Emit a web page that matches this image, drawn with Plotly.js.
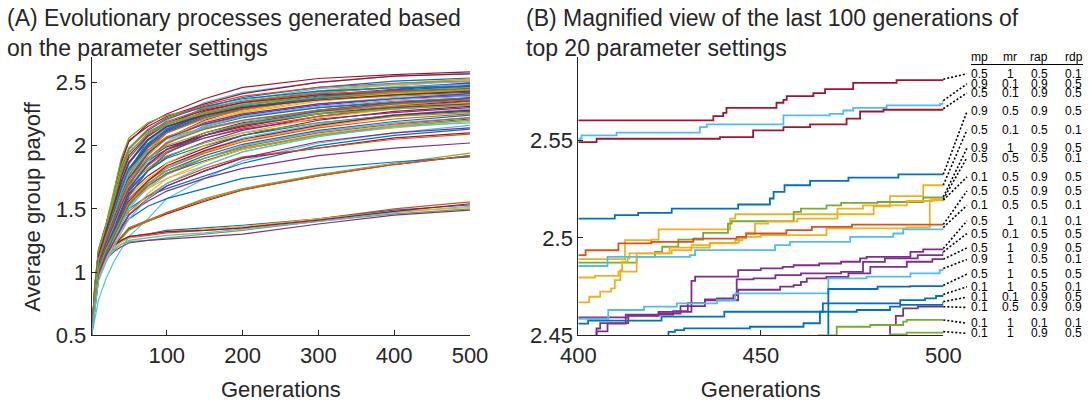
<!DOCTYPE html>
<html><head><meta charset="utf-8">
<script src="https://cdn.plot.ly/plotly-3.0.1.min.js"></script>
<style>html,body{margin:0;padding:0;background:#fff}#chart{width:1092px;height:406px}</style>
</head><body><div id="chart"></div>
<script>
// MATLAB default colour order
const palette = ['#0072BD','#D95319','#EDB120','#7E2F8E','#77AC30','#4DBEEE','#A2142F'];

// ---------- Panel A: all parameter settings ----------
const generations = [1,5,10,20,30,40,50,75,100,150,200,300,400,500];
const leftSeries = [
 [0.5,0.86,1.16,1.36,1.58,1.86,2.03,2.17,2.25,2.37,2.46,2.53,2.560,2.582],
 [0.5,0.82,1.12,1.32,1.50,1.68,1.85,2.08,2.20,2.34,2.42,2.50,2.551,2.571],
 [0.5,0.88,1.18,1.38,1.62,1.88,2.04,2.15,2.23,2.33,2.41,2.50,2.549,2.566],
 [0.5,0.80,1.10,1.30,1.46,1.64,1.80,2.04,2.16,2.30,2.38,2.46,2.510,2.533],
 [0.5,0.78,1.05,1.25,1.40,1.55,1.68,1.94,2.10,2.24,2.32,2.42,2.489,2.527],
 [0.5,0.90,1.18,1.38,1.64,1.90,2.06,2.18,2.24,2.30,2.35,2.43,2.487,2.521],
 [0.5,0.80,1.08,1.27,1.43,1.59,1.73,1.98,2.12,2.25,2.32,2.41,2.467,2.520],
 [0.5,0.82,1.10,1.29,1.45,1.62,1.78,2.01,2.15,2.27,2.33,2.43,2.480,2.519],
 [0.5,0.87,1.16,1.36,1.58,1.82,1.98,2.13,2.22,2.32,2.39,2.46,2.491,2.507],
 [0.5,0.80,1.09,1.28,1.45,1.63,1.79,2.02,2.16,2.29,2.36,2.45,2.486,2.505],
 [0.5,0.83,1.12,1.31,1.48,1.66,1.81,2.01,2.13,2.25,2.32,2.40,2.445,2.495],
 [0.5,0.82,1.10,1.29,1.45,1.62,1.77,2.00,2.14,2.27,2.34,2.42,2.459,2.493],
 [0.5,0.79,1.06,1.25,1.40,1.55,1.69,1.92,2.06,2.20,2.29,2.38,2.440,2.489],
 [0.5,0.80,1.08,1.27,1.44,1.61,1.77,2.00,2.14,2.26,2.33,2.42,2.461,2.484],
 [0.5,0.86,1.14,1.34,1.54,1.75,1.90,2.07,2.17,2.26,2.32,2.39,2.430,2.476],
 [0.5,0.82,1.10,1.30,1.47,1.64,1.79,2.00,2.13,2.24,2.30,2.38,2.435,2.471],
 [0.5,0.88,1.17,1.37,1.58,1.82,1.97,2.12,2.21,2.31,2.37,2.43,2.456,2.467],
 [0.5,0.83,1.12,1.31,1.48,1.65,1.80,1.99,2.11,2.22,2.29,2.37,2.420,2.465],
 [0.5,0.85,1.14,1.33,1.52,1.71,1.86,2.04,2.15,2.26,2.32,2.40,2.430,2.458],
 [0.5,0.79,1.07,1.26,1.42,1.58,1.74,1.96,2.10,2.21,2.28,2.37,2.425,2.452],
 [0.5,0.85,1.14,1.34,1.55,1.76,1.92,2.08,2.18,2.28,2.34,2.40,2.43,2.445],
 [0.5,0.82,1.10,1.29,1.44,1.60,1.76,1.98,2.10,2.22,2.29,2.37,2.41,2.44],
 [0.5,0.78,1.04,1.22,1.36,1.50,1.64,1.88,2.03,2.18,2.26,2.35,2.40,2.43],
 [0.5,0.84,1.12,1.31,1.50,1.70,1.86,2.04,2.15,2.25,2.31,2.37,2.40,2.42],
 [0.5,0.88,1.17,1.37,1.60,1.84,1.98,2.11,2.18,2.25,2.30,2.36,2.39,2.41],
 [0.5,0.76,1.02,1.20,1.34,1.48,1.62,1.86,2.01,2.16,2.24,2.33,2.38,2.40],
 [0.5,0.80,1.08,1.26,1.41,1.57,1.72,1.93,2.06,2.18,2.25,2.33,2.37,2.395],
 [0.5,0.78,1.05,1.22,1.37,1.52,1.66,1.85,1.97,2.10,2.18,2.28,2.34,2.38],
 [0.5,0.84,1.12,1.30,1.47,1.64,1.78,1.96,2.07,2.17,2.23,2.30,2.35,2.375],
 [0.5,0.80,1.08,1.26,1.41,1.56,1.69,1.89,2.02,2.15,2.22,2.30,2.34,2.37],
 [0.5,0.76,1.02,1.19,1.33,1.48,1.61,1.81,1.95,2.08,2.16,2.26,2.32,2.36],
 [0.5,0.82,1.10,1.28,1.44,1.61,1.74,1.90,1.99,2.08,2.15,2.25,2.31,2.355],
 [0.5,0.77,1.03,1.20,1.34,1.50,1.64,1.80,1.91,2.03,2.12,2.23,2.30,2.35],
 [0.5,0.84,1.12,1.30,1.48,1.66,1.80,1.96,2.06,2.14,2.20,2.27,2.31,2.34],
 [0.5,0.79,1.05,1.22,1.38,1.54,1.68,1.84,1.95,2.06,2.14,2.23,2.29,2.33],
 [0.5,0.82,1.10,1.28,1.45,1.63,1.78,1.95,2.05,2.13,2.19,2.25,2.29,2.32],
 [0.5,0.75,1.00,1.17,1.31,1.48,1.62,1.76,1.86,1.98,2.08,2.20,2.27,2.31],
 [0.5,0.80,1.08,1.26,1.42,1.60,1.74,1.88,1.97,2.06,2.13,2.21,2.26,2.30],
 [0.5,0.74,0.99,1.15,1.29,1.45,1.60,1.74,1.83,1.95,2.04,2.15,2.23,2.28],
 [0.5,0.77,1.03,1.20,1.34,1.51,1.65,1.80,1.90,2.00,2.08,2.18,2.24,2.27],
 [0.5,0.79,1.05,1.22,1.36,1.54,1.68,1.82,1.92,2.02,2.10,2.18,2.23,2.26],
 [0.5,0.75,1.00,1.17,1.30,1.45,1.58,1.72,1.82,1.94,2.03,2.14,2.21,2.25],
 [0.5,0.70,0.94,1.10,1.24,1.40,1.52,1.66,1.77,1.90,2.00,2.11,2.18,2.22],
 [0.5,0.73,0.97,1.13,1.26,1.42,1.55,1.68,1.78,1.88,1.97,2.08,2.16,2.21],
 [0.5,0.75,0.99,1.15,1.27,1.42,1.55,1.66,1.74,1.84,1.95,2.08,2.14,2.19],
 [0.5,0.62,0.78,0.95,1.08,1.18,1.28,1.42,1.58,1.74,1.88,2.02,2.10,2.16],
 [0.5,0.77,1.02,1.18,1.28,1.40,1.50,1.60,1.66,1.76,1.86,2.00,2.08,2.13],
 [0.5,0.72,0.96,1.12,1.24,1.36,1.45,1.58,1.68,1.80,1.90,1.98,2.06,2.10],
 [0.5,0.74,0.98,1.14,1.26,1.39,1.48,1.60,1.70,1.82,1.91,1.98,2.05,2.09],
 [0.5,0.72,0.96,1.12,1.23,1.35,1.46,1.56,1.64,1.74,1.82,1.92,1.98,2.02],
 [0.5,0.74,0.98,1.13,1.21,1.27,1.34,1.40,1.46,1.56,1.65,1.76,1.85,1.92],
 [0.5,0.72,0.96,1.11,1.20,1.26,1.33,1.40,1.47,1.58,1.66,1.77,1.86,1.94],
 [0.5,0.76,1.00,1.15,1.24,1.34,1.42,1.52,1.58,1.66,1.74,1.82,1.87,1.91],
 [0.5,0.74,0.98,1.13,1.22,1.28,1.35,1.41,1.47,1.57,1.65,1.76,1.85,1.92],
 [0.5,0.76,0.99,1.14,1.21,1.24,1.27,1.29,1.31,1.33,1.35,1.42,1.50,1.555],
 [0.5,0.78,1.01,1.16,1.22,1.25,1.28,1.30,1.33,1.35,1.37,1.42,1.49,1.53],
 [0.5,0.74,0.97,1.12,1.18,1.22,1.24,1.25,1.27,1.30,1.33,1.40,1.46,1.50],
 [0.5,0.72,0.95,1.10,1.16,1.20,1.23,1.25,1.26,1.28,1.30,1.38,1.45,1.49],
 [0.5,0.71,0.94,1.10,1.17,1.22,1.25,1.27,1.29,1.31,1.34,1.40,1.47,1.52],
 [0.5,0.75,0.98,1.13,1.19,1.24,1.27,1.30,1.32,1.34,1.36,1.42,1.48,1.51],
 [0.5,0.77,1.00,1.15,1.21,1.25,1.28,1.30,1.32,1.33,1.35,1.41,1.48,1.54],
 [0.5,0.83,1.11,1.30,1.47,1.66,1.82,2.01,2.12,2.23,2.30,2.38,2.425,2.448],
 [0.5,0.86,1.15,1.35,1.56,1.78,1.94,2.10,2.19,2.29,2.35,2.41,2.430,2.447],
 [0.5,0.79,1.06,1.24,1.39,1.55,1.70,1.92,2.06,2.19,2.27,2.36,2.41,2.44],
 [0.5,0.81,1.09,1.27,1.43,1.60,1.74,1.94,2.06,2.17,2.24,2.32,2.37,2.41],
 [0.5,0.87,1.16,1.36,1.57,1.80,1.95,2.09,2.17,2.26,2.32,2.38,2.42,2.44],
 [0.5,0.78,1.04,1.22,1.37,1.52,1.66,1.88,2.02,2.15,2.23,2.31,2.36,2.39],
 [0.5,0.84,1.13,1.32,1.52,1.72,1.87,2.05,2.15,2.24,2.30,2.36,2.40,2.43],
 [0.5,0.77,1.03,1.20,1.33,1.47,1.60,1.80,1.94,2.08,2.17,2.27,2.33,2.37],
 [0.5,0.80,1.07,1.25,1.40,1.56,1.70,1.90,2.02,2.13,2.20,2.28,2.33,2.36],
 [0.5,0.73,0.98,1.14,1.27,1.40,1.52,1.72,1.86,2.00,2.10,2.22,2.29,2.34],
 [0.5,0.79,1.06,1.23,1.38,1.53,1.66,1.85,1.97,2.08,2.16,2.25,2.30,2.33],
 [0.5,0.82,1.10,1.28,1.44,1.60,1.73,1.90,2.00,2.10,2.17,2.25,2.29,2.32],
 [0.5,0.72,0.96,1.12,1.25,1.38,1.50,1.68,1.82,1.96,2.06,2.17,2.24,2.29],
 [0.5,0.76,1.01,1.18,1.31,1.44,1.56,1.72,1.84,1.96,2.05,2.16,2.24,2.28],
 [0.5,0.74,0.99,1.15,1.28,1.41,1.53,1.70,1.80,1.92,2.01,2.12,2.19,2.24],
 [0.5,0.76,1.01,1.17,1.29,1.42,1.54,1.68,1.78,1.90,1.99,2.10,2.17,2.22],
 [0.5,0.71,0.95,1.10,1.22,1.34,1.45,1.62,1.74,1.87,1.97,2.09,2.16,2.20],
 [0.5,0.74,0.98,1.13,1.24,1.35,1.45,1.58,1.68,1.80,1.90,2.03,2.10,2.14],
 [0.5,0.77,1.02,1.18,1.30,1.43,1.55,1.70,1.80,1.90,1.98,2.08,2.15,2.20],
 [0.5,0.70,0.93,1.08,1.20,1.31,1.42,1.58,1.70,1.84,1.95,2.07,2.15,2.18]
];
const leftColors = [6,5,6,0,2,4,2,2,1,5,3,3,3,5,0,0,0,3,4,4,
                    6,1,2,0,4,5,3,6,1,0,2,6,3,4,1,5,6,3,2,0,4,1,5,0,2,5,0,6,1,3,
                    6,4,0,1,1,0,4,3,5,2,6,
                    0,1,2,3,4,5,6,0,1,2,3,4,5,6,0,1,2,3,4,5];

// ---------- Panel B: last 100 generations of the top 20 settings ----------
const rightX = [
 [400,437,439.7,440.6,454.3,456.2,457.1,464.4,467.6,475.3,487.2,500],
 [400,400.9,410.5,433.3,435.2,456.2,468.9,472.6,475.3,484.5,499.1,500],
 [400,405,438.8,447.9,456.2,463.5,473.5,477.2,483.6,500],
 [400,410,416.4,425.6,443.8,452.5,453.5,456.5,463.5,474,487.7,500],
 [400,412.8,420,422,441.6,443,480.9,485.4,494.5,500],
 [400,416,421,423,427.4,434.2,441,442,459,461,468,472,482,494.5,500],
 [400,403,406,409,410,411.5,412,413.5,414,425,436,444,446,448.4,452,460,471,478,490,497,500],
 [400,404.6,411,416,425.6,431,436,443,445,450,468,490,496.3,500],
 [400,402,411,420,431.5,443.4,446,457,464,475,500],
 [400,408,430.6,432,453.9,458,474.5,486.3,489,500],
 [400,405,406,413.7,422,431,432,443.8,450,456,459,466,472,477.2,479,491,494.5,500],
 [400,413.7,422,428,434.7,438,442.5,443.4,448,454,461,472,478,484,493,500],
 [400,405,408,413,426,430,434.7,443.8,455.3,459,461,462.6,468,474,480,490,497,500],
 [400,408.2,418,427,438,443,468.5,479,491,499,500],
 [400,468.5,482,491,500],
 [400,424.7,426.5,429,447,461.7,466.2,467,488.2,495,498,500],
 [400,402.7,422.8,440,476.3,485.4,488.2,500],
 [400,485.4,487,489,493,500],
 [400,465.8,470.8,480,489,490,500],
 [400,485.4,490,500]
];
const rightY = [
 [2.5604,2.5626,2.5643,2.5669,2.5695,2.5710,2.5729,2.5744,2.5765,2.5797,2.5811,2.5816],
 [2.5510,2.5527,2.5541,2.5570,2.5584,2.5630,2.5638,2.5655,2.5669,2.5681,2.5689,2.5706],
 [2.5493,2.5510,2.5518,2.5553,2.5570,2.5584,2.5613,2.5650,2.5659,2.5664],
 [2.5100,2.5117,2.5129,2.5151,2.5172,2.5203,2.5237,2.5271,2.5293,2.5310,2.5327,2.5327],
 [2.4891,2.4989,2.4992,2.5044,2.5100,2.5122,2.5163,2.5215,2.5271,2.5271],
 [2.4873,2.4903,2.4929,2.4955,2.4992,2.5026,2.5074,2.5086,2.5134,2.5151,2.5168,2.5180,2.5185,2.5208,2.5211],
 [2.4669,2.4698,2.4724,2.4741,2.4784,2.4835,2.4878,2.4895,2.4921,2.4950,2.4975,2.5000,2.5023,2.5074,2.5085,2.5100,2.5151,2.5168,2.5190,2.5200,2.5200],
 [2.4797,2.4805,2.4827,2.4921,2.4938,2.4963,2.4972,2.4989,2.5006,2.5015,2.5049,2.5054,2.5194,2.5194],
 [2.4912,2.4937,2.4972,2.4980,2.4997,2.5006,2.5023,2.5040,2.5057,2.5069,2.5069],
 [2.4856,2.4903,2.4912,2.4938,2.4963,2.4980,2.5006,2.5023,2.5044,2.5054],
 [2.4450,2.4535,2.4563,2.4603,2.4620,2.4780,2.4801,2.4835,2.4844,2.4852,2.4860,2.4869,2.4878,2.4895,2.4903,2.4929,2.4941,2.4946],
 [2.4592,2.4600,2.4612,2.4650,2.4684,2.4690,2.4706,2.4787,2.4792,2.4809,2.4818,2.4826,2.4877,2.4895,2.4912,2.4929],
 [2.4400,2.4520,2.4560,2.4606,2.4624,2.4665,2.4680,2.4734,2.4750,2.4758,2.4775,2.4792,2.4800,2.4818,2.4852,2.4878,2.4891,2.4891],
 [2.4585,2.4630,2.4647,2.4664,2.4680,2.4715,2.4792,2.4801,2.4818,2.4835,2.4843],
 [2.4400,2.4738,2.4750,2.4753,2.4757],
 [2.4400,2.4518,2.4527,2.4536,2.4544,2.4562,2.4621,2.4664,2.4681,2.4690,2.4702,2.4710],
 [2.4560,2.4575,2.4596,2.4621,2.4630,2.4647,2.4656,2.4673],
 [2.4400,2.4553,2.4600,2.4638,2.4647,2.4647],
 [2.4400,2.4500,2.4544,2.4553,2.4570,2.4579,2.4579],
 [2.4400,2.4505,2.4514,2.4519]
];
const rightColors = [6,5,6,0,2,4,2,2,1,5,3,3,3,5,0,0,0,3,4,4];

// Parameter table (one row per top-20 setting, ordered by final payoff)
const tableHeader = ['mp','mr','rap','rdp'];
const mp  = [0.5,0.9,0.5,0.9,0.5,0.9,0.5,0.1,0.5,0.1,0.5,0.5,0.5,0.9,0.5,0.1,0.1,0.1,0.1,0.1];
const mr  = [1,0.1,0.1,0.5,0.1,1,0.5,0.5,0.5,0.5,1,0.1,1,1,1,1,0.1,0.5,1,1];
const rap = [0.5,0.9,0.9,0.9,0.5,0.9,0.5,0.9,0.9,0.5,0.1,0.5,0.9,0.5,0.5,0.5,0.9,0.9,0.1,0.9];
const rdp = [0.1,0.5,0.5,0.5,0.1,0.5,0.1,0.5,0.5,0.1,0.1,0.5,0.5,0.1,0.5,0.1,0.5,0.9,0.1,0.5];
// label row positions (payoff units of panel B axis)
const labelY = [2.5844,2.5792,2.5746,2.5650,2.5556,2.5462,2.5413,2.5314,2.5242,2.5168,
                2.5088,2.5023,2.4949,2.4890,2.4814,2.4749,2.4696,2.4643,2.4562,2.4510];

// ---------- geometry (paper fractions) ----------
const W = 1092, H = 406;
const dA = [91.7/W, 470/W], dB = [578.3/W, 943.3/W], dY = [1-335.3/H, 1-57/H];
const colX = [979.5/W, 1010/W, 1039/W, 1073.5/W];
const leaderEnd = 967/W;

const traces = [];
leftSeries.forEach((s,i)=>{
  traces.push({x:generations, y:s, type:'scatter', mode:'lines', xaxis:'x', yaxis:'y',
    line:{color:palette[leftColors[i]], width:1.2}, hoverinfo:'skip'});
});
rightX.forEach((xs,i)=>{
  traces.push({x:xs, y:rightY[i], type:'scatter', mode:'lines', xaxis:'x2', yaxis:'y2',
    line:{color:palette[rightColors[i]], width:1.8, shape:'hv'}, hoverinfo:'skip'});
});

const font = 'Liberation Sans, Arial, Helvetica, sans-serif';
const narrow = 'Liberation Sans Narrow, Liberation Sans, Arial, sans-serif';
const ink = '#262626';
const shapes = [], annotations = [];

rightY.forEach((ys,i)=>{
  shapes.push({type:'line', xref:'paper', yref:'y2', x0:dB[1], y0:ys[ys.length-1], x1:leaderEnd, y1:labelY[i],
    line:{color:'#000', width:1.6, dash:'2px,2px'}});
  [mp[i],mr[i],rap[i],rdp[i]].forEach((v,c)=>{
    annotations.push({xref:'paper', yref:'y2', x:colX[c], y:labelY[i], text:String(v), showarrow:false,
      xanchor:'center', yanchor:'middle', borderpad:0, font:{family:narrow, size:12, color:'#000'}});
  });
});
tableHeader.forEach((h,c)=>{
  annotations.push({xref:'paper', yref:'paper', x:colX[c], y:1-57/H, text:h, showarrow:false,
    xanchor:'center', yanchor:'middle', borderpad:0, font:{family:narrow, size:12, color:'#000'}});
});
shapes.push({type:'line', xref:'paper', yref:'paper', x0:971/W, x1:1083/W, y0:1-64.5/H, y1:1-64.5/H,
  line:{color:'#000', width:1}});

annotations.push({xref:'paper', yref:'paper', x:5/W, y:1-3/H, xanchor:'left', yanchor:'top', align:'left',
  showarrow:false, text:'(A) Evolutionary processes generated based<br>on the parameter settings',
  font:{family:font, size:23, color:ink}});
annotations.push({xref:'paper', yref:'paper', x:524/W, y:1-3/H, xanchor:'left', yanchor:'top', align:'left',
  showarrow:false, text:'(B) Magnified view of the last 100 generations of<br>top 20 parameter settings',
  font:{family:font, size:23, color:ink}});
annotations.push({xref:'paper', yref:'paper', x:31.7/W, y:1-207/H, xanchor:'center', yanchor:'middle',
  textangle:-90, showarrow:false, text:'Average group payoff', font:{family:font, size:22, color:ink}});

const axBase = {showgrid:false, zeroline:false, showline:true, linecolor:ink, linewidth:1,
  ticks:'inside', ticklen:5, tickcolor:ink, tickwidth:1, tickfont:{family:font, size:22, color:ink}, fixedrange:true};

const layout = {
  width:W, height:H, margin:{l:0,r:0,t:0,b:0}, showlegend:false,
  paper_bgcolor:'#fff', plot_bgcolor:'rgba(0,0,0,0)', font:{family:font, color:ink},
  xaxis:Object.assign({}, axBase, {domain:dA, anchor:'y', range:[1,500], tickvals:[100,200,300,400,500],
    title:{text:'Generations', font:{family:font, size:22, color:ink}, standoff:14}}),
  yaxis:Object.assign({}, axBase, {domain:dY, anchor:'x', range:[0.5,2.7], tickvals:[0.5,1,1.5,2,2.5],
    ticktext:['0.5','1','1.5','2','2.5']}),
  xaxis2:Object.assign({}, axBase, {domain:dB, anchor:'y2', range:[400,500], tickvals:[400,450,500],
    title:{text:'Generations', font:{family:font, size:22, color:ink}, standoff:14}}),
  yaxis2:Object.assign({}, axBase, {domain:dY, anchor:'x2', range:[2.45,2.593], tickvals:[2.45,2.5,2.55],
    ticktext:['2.45','2.5','2.55']}),
  shapes:shapes, annotations:annotations
};
Plotly.newPlot('chart', traces, layout, {staticPlot:true, displayModeBar:false});
</script></body></html>
